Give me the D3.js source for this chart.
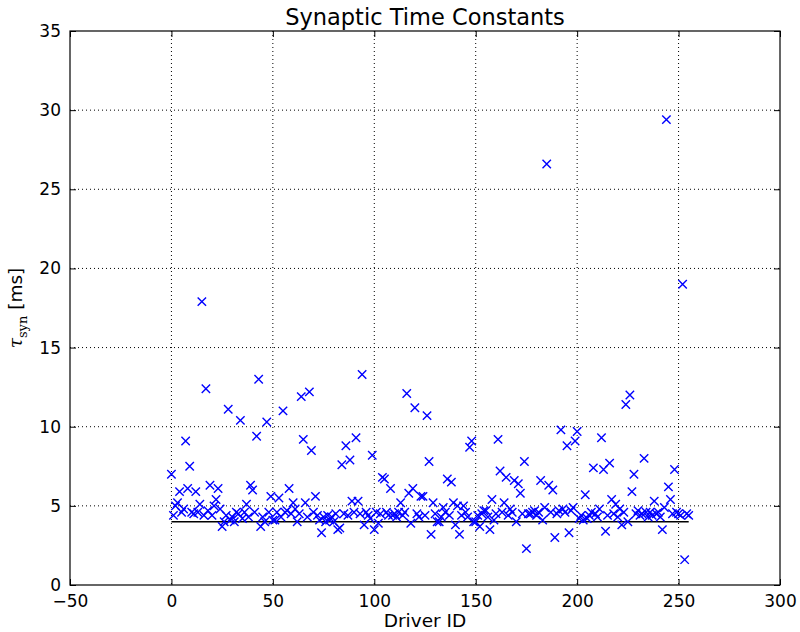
<!DOCTYPE html>
<html>
<head>
<meta charset="utf-8">
<script src="https://cdn.jsdelivr.net/npm/d3@7"></script>
<style>
  html, body { margin: 0; padding: 0; background: #fff; }
  svg { display: block; font-family: "DejaVu Sans", sans-serif; }
</style>
</head>
<body>
<div id="chart"></div>
<script>
// Data: tau_syn (ms) for each driver, index = driver ID

const tauSyn = [
  7.0, 4.4, 5.0, 5.2, 5.9, 4.6, 4.8, 9.1, 6.1, 7.5,
  4.6, 4.5, 5.9, 4.6, 5.1, 17.9, 4.4, 12.4, 4.7, 6.3,
  4.4, 5.0, 5.4, 6.1, 4.8, 3.7, 4.0, 4.4, 11.1, 4.1,
  4.3, 4.0, 4.6, 4.5, 10.4, 4.2, 4.6, 5.1, 4.3, 6.3,
  6.0, 4.6, 9.4, 13.0, 3.7, 4.3, 4.0, 10.3, 4.6, 5.6,
  4.1, 4.1, 4.6, 5.5, 4.3, 11.0, 4.6, 4.7, 6.1, 4.5,
  5.2, 4.8, 4.0, 4.5, 11.9, 9.2, 5.2, 4.3, 12.2, 8.5,
  4.6, 5.6, 4.4, 4.1, 3.3, 4.3, 4.0, 4.4, 4.1, 4.3,
  4.0, 4.5, 3.5, 3.6, 7.6, 4.5, 8.8, 4.4, 7.9, 5.3,
  4.6, 9.3, 5.3, 4.5, 13.3, 3.8, 4.6, 4.4, 4.2, 8.2,
  3.5, 4.6, 3.9, 4.5, 6.8, 6.7, 4.6, 4.4, 6.1, 4.4,
  4.5, 4.3, 4.6, 5.2, 4.4, 4.6, 12.1, 5.8, 3.9, 6.1,
  11.2, 4.5, 4.3, 5.6, 5.6, 4.4, 10.7, 7.8, 3.2, 5.2,
  4.5, 4.0, 4.0, 4.3, 4.9, 4.6, 6.7, 4.4, 6.5, 5.2,
  3.8, 5.0, 3.2, 4.4, 5.0, 4.6, 4.3, 8.7, 9.1, 4.0,
  4.0, 4.4, 3.7, 4.5, 4.7, 4.7, 4.3, 3.5, 5.4, 4.1,
  4.5, 9.2, 7.2, 4.6, 5.2, 6.8, 4.4, 4.8, 4.6, 6.6,
  4.0, 6.4, 5.8, 4.5, 7.8, 2.3, 4.5, 4.5, 4.6, 4.7,
  4.4, 4.6, 6.6, 4.1, 4.9, 26.6, 6.3, 4.6, 6.0, 3.0,
  4.5, 4.7, 9.8, 4.8, 4.6, 8.8, 3.3, 4.7, 4.9, 9.1,
  9.7, 4.2, 4.4, 4.1, 5.7, 4.2, 4.4, 4.6, 7.4, 4.5,
  4.3, 4.8, 9.3, 7.3, 3.4, 4.4, 7.7, 5.4, 4.5, 5.1,
  4.3, 4.8, 3.8, 4.6, 11.4, 4.0, 12.0, 5.9, 7.0, 4.5,
  4.7, 4.4, 4.5, 8.0, 4.6, 4.3, 4.6, 4.4, 5.3, 4.5,
  4.6, 4.3, 3.5, 4.9, 29.4, 6.2, 5.4, 4.5, 7.3, 4.6,
  4.5, 4.4, 19.0, 1.6, 4.5, 4.4
];

// reference level drawn as a flat line across all drivers
const refLevel = 4.0;
const refRange = [0, 255];

const xTicks = [-50, 0, 50, 100, 150, 200, 250, 300];
const yTicks = [0, 5, 10, 15, 20, 25, 30, 35];

// Config

const width = 800;
const height = 632;
const margin = { top: 31, right: 20, bottom: 47, left: 70 };

const svg = d3.select("#chart")
  .append("svg")
  .attr("width", width)
  .attr("height", height);

const xScale = d3.scaleLinear()
  .domain([-50, 300])
  .range([margin.left, width - margin.right]);

const yScale = d3.scaleLinear()
  .domain([0, 35])
  .range([height - margin.bottom, margin.top]);

const x0 = xScale.range()[0], x1 = xScale.range()[1];
const y0 = yScale.range()[0], y1 = yScale.range()[1];

// Grid

const grid = svg.append("g")
  .attr("stroke", "#000")
  .attr("stroke-width", 1)
  .attr("stroke-dasharray", "1,3");

grid.selectAll("line.vgrid")
  .data(xTicks.slice(1, -1))
  .join("line")
  .attr("class", "vgrid")
  .attr("x1", d => xScale(d)).attr("x2", d => xScale(d))
  .attr("y1", y1).attr("y2", y0);

grid.selectAll("line.hgrid")
  .data(yTicks.slice(1, -1))
  .join("line")
  .attr("class", "hgrid")
  .attr("x1", x0).attr("x2", x1)
  .attr("y1", d => yScale(d)).attr("y2", d => yScale(d));

// Reference line

svg.append("line")
  .attr("x1", xScale(refRange[0]))
  .attr("x2", xScale(refRange[1]))
  .attr("y1", yScale(refLevel))
  .attr("y2", yScale(refLevel))
  .attr("stroke", "#000")
  .attr("stroke-width", 1.5);

// Markers

const s = 4.2;
svg.append("g")
  .selectAll("path.dot")
  .data(tauSyn.map((v, i) => ({ id: i, tau: v })))
  .join("path")
  .attr("class", "dot")
  .attr("transform", d => `translate(${xScale(d.id)},${yScale(d.tau)})`)
  .attr("d", `M${-s},${-s}L${s},${s}M${-s},${s}L${s},${-s}`)
  .attr("stroke", "#0000ff")
  .attr("stroke-width", 1.4)
  .attr("fill", "none");

// Axes (ticks pointing inward, on all four sides)

const fmt = d => d < 0 ? "\u2212" + Math.abs(d) : String(d);

const xAxis = d3.axisBottom(xScale).tickValues(xTicks).tickSize(-6).tickPadding(10).tickFormat(fmt);
const yAxis = d3.axisLeft(yScale).tickValues(yTicks).tickSize(-6).tickPadding(9).tickFormat(fmt);

function styleAxis(g) {
  g.select(".domain").remove();
  g.selectAll(".tick line").attr("stroke", "#000").attr("stroke-width", 1);
  g.selectAll(".tick text")
    .attr("fill", "#000")
    .style("font-family", "'DejaVu Sans', sans-serif")
    .style("font-size", "17px");
}

svg.append("g")
  .attr("transform", `translate(0,${y0})`)
  .call(xAxis)
  .call(styleAxis);

svg.append("g")
  .attr("transform", `translate(${x0},0)`)
  .call(yAxis)
  .call(styleAxis);

svg.append("g")
  .attr("transform", `translate(0,${y1})`)
  .call(d3.axisTop(xScale).tickValues(xTicks).tickSize(-6).tickFormat(""))
  .call(styleAxis);

svg.append("g")
  .attr("transform", `translate(${x1},0)`)
  .call(d3.axisRight(yScale).tickValues(yTicks).tickSize(-6).tickFormat(""))
  .call(styleAxis);

// Frame

svg.append("rect")
  .attr("x", x0).attr("y", y1)
  .attr("width", x1 - x0).attr("height", y0 - y1)
  .attr("fill", "none")
  .attr("stroke", "#000")
  .attr("stroke-width", 1.2);

// Labels

svg.append("text")
  .attr("x", (x0 + x1) / 2)
  .attr("y", 25)
  .attr("text-anchor", "middle")
  .style("font-size", "22.5px")
  .text("Synaptic Time Constants");

svg.append("text")
  .attr("x", (x0 + x1) / 2)
  .attr("y", 627)
  .attr("text-anchor", "middle")
  .style("font-size", "18.5px")
  .text("Driver ID");

const ylab = svg.append("text")
  .attr("transform", `translate(22,${(y0 + y1) / 2}) rotate(-90)`)
  .attr("text-anchor", "middle")
  .style("font-size", "18.5px");

ylab.append("tspan")
  .style("font-family", "'DejaVu Serif', serif")
  .style("font-style", "italic")
  .text("\u03c4");
ylab.append("tspan")
  .attr("dy", 5)
  .style("font-family", "'DejaVu Serif', serif")
  .style("font-size", "13px")
  .text("syn");
ylab.append("tspan")
  .attr("dy", -5)
  .text(" [ms]");
</script>
</body>
</html>
